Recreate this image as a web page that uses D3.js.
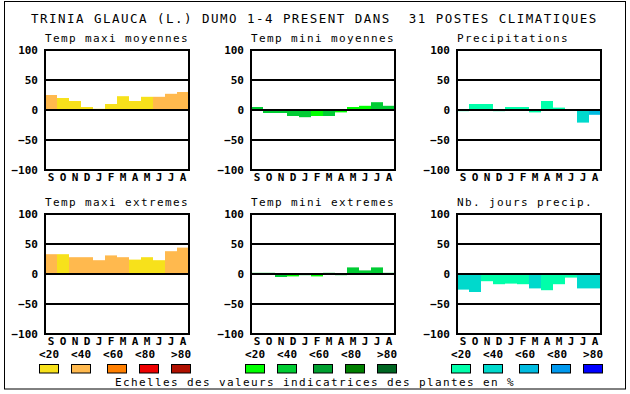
<!DOCTYPE html>
<html><head><meta charset="utf-8">
<script src="https://cdn.jsdelivr.net/npm/d3@7/dist/d3.min.js"></script>
<style>
html,body{margin:0;padding:0;background:#fff;}
svg text{font-family:"DejaVu Sans Mono",monospace;white-space:pre;}
</style></head>
<body><svg id="c" width="630" height="394"></svg>
<script>
const mainTitle = "TRINIA GLAUCA (L.) DUMO 1-4 PRESENT DANS  31 POSTES CLIMATIQUES";
const footer = "Echelles des valeurs indicatrices des plantes en %";
const months = ["S","O","N","D","J","F","M","A","M","J","J","A"];
const yTicks = [100, 50, 0, -50, -100];
const legendLabels = ["<20","<40","<60","<80",">80"];

const yellowScale = ["#f7e11b","#ffb94e","#ff7f00","#ee0000","#b01000"];
const greenScale  = ["#00ff00","#00cc33","#00a030","#008000","#006622"];
const blueScale   = ["#00ffaa","#00d9cc","#00bbe0","#0099ee","#0000ff"];

const panelTitles = ["Temp maxi moyennes","Temp mini moyennes","Precipitations",
                     "Temp maxi extremes","Temp mini extremes","Nb. jours precip."];

const tmaxMoy      = [25,20,15,5,2,10,23,15,22,22,27,30];
const tmaxMoyClass = [1,0,0,0,0,0,0,0,0,1,1,1];
const tminMoy      = [5,-5,-5,-10,-12,-10,-10,-4,5,7,13,7];
const tminMoyClass = [1,1,1,1,1,0,1,0,0,0,1,1];
const precip       = [-2,10,10,-2,5,5,-4,15,4,0,-21,-8];
const precipClass  = [0,0,0,0,0,0,0,0,0,0,1,2];
const tmaxExt      = [33,33,28,28,23,31,28,24,28,23,38,44];
const tmaxExtClass = [1,0,1,1,1,1,1,0,0,0,1,1];
const tminExt      = [2,2,-5,-4,-2,-4,2,-2,11,6,11,2];
const tminExtClass = [1,1,1,0,1,0,1,1,1,1,1,1];
const joursPrecip      = [-26,-30,-12,-17,-16,-17,-24,-27,-17,-6,-24,-24];
const joursPrecipClass = [1,1,0,0,0,0,1,0,0,0,1,1];

const panels = [
  {values:tmaxMoy, cls:tmaxMoyClass, pal:yellowScale},
  {values:tminMoy, cls:tminMoyClass, pal:greenScale},
  {values:precip, cls:precipClass, pal:blueScale},
  {values:tmaxExt, cls:tmaxExtClass, pal:yellowScale},
  {values:tminExt, cls:tminExtClass, pal:greenScale},
  {values:joursPrecip, cls:joursPrecipClass, pal:blueScale}
];

const svg = d3.select("#c");
svg.append("rect").attr("x",4.5).attr("y",1.5).attr("width",621).attr("height",387.5)
  .attr("fill","#fff").attr("stroke","#000").attr("stroke-width",1);

svg.append("text").attr("x",31).attr("y",23).attr("font-size",12.5)
  .attr("letter-spacing",1.47).attr("fill","#000").text(mainTitle);

const colX = [45, 251, 457];
const rowY = [50, 214];
const W = 144, H = 120;

panels.forEach((p, i) => {
  const x0 = colX[i % 3], y0 = rowY[Math.floor(i / 3)];
  const x = d3.scaleBand().domain(d3.range(12)).range([x0, x0 + W]).padding(0);
  const y = d3.scaleLinear().domain([-100, 100]).range([y0 + H, y0]);
  const g = svg.append("g");

  g.append("text").attr("x", x0).attr("y", y0 - 8).attr("font-size", 11)
    .attr("letter-spacing", 1.38).text(panelTitles[i]);

  g.selectAll("rect.bar").data(p.values).enter().append("rect")
    .attr("x", (d, j) => x(j))
    .attr("width", x.bandwidth())
    .attr("y", d => y(Math.max(0, d)))
    .attr("height", d => Math.abs(y(d) - y(0)))
    .attr("fill", (d, j) => p.pal[p.cls[j]]);

  g.selectAll("line.grid").data([50, 0, -50]).enter().append("line")
    .attr("x1", x0).attr("x2", x0 + W)
    .attr("y1", d => y(d)).attr("y2", d => y(d))
    .attr("stroke", "#000").attr("stroke-width", 2);

  g.append("rect").attr("x", x0).attr("y", y0).attr("width", W).attr("height", H)
    .attr("fill", "none").attr("stroke", "#000").attr("stroke-width", 2);

  const ya = g.append("g").attr("transform", `translate(${x0},0)`)
    .call(d3.axisLeft(y).tickValues(yTicks).tickSize(0).tickPadding(7).tickFormat(d3.format("d")));
  ya.select(".domain").remove();
  ya.selectAll("text").attr("font-family", "DejaVu Sans Mono").attr("font-weight", "bold")
    .attr("font-size", 11).attr("fill", "#000").attr("dy", "0.36em");

  const xa = g.append("g").attr("transform", `translate(0,${y0 + H})`)
    .call(d3.axisBottom(x).tickSize(0).tickPadding(3).tickFormat(j => months[j]));
  xa.select(".domain").remove();
  xa.selectAll("text").attr("font-family", "DejaVu Sans Mono").attr("font-weight", "bold")
    .attr("font-size", 11).attr("fill", "#000");
});

const legendOffsets = [0, 206, 412];
const labelX = [39, 71, 103, 135, 171];
const boxX = [39, 71, 107, 139, 171];
[yellowScale, greenScale, blueScale].forEach((pal, k) => {
  const off = legendOffsets[k];
  legendLabels.forEach((lab, j) => {
    svg.append("text").attr("x", labelX[j] + off).attr("y", 357.5)
      .attr("font-size", 11).attr("font-weight", "bold").attr("letter-spacing", 0.1).text(lab);
    svg.append("rect").attr("x", boxX[j] + off + 0.5).attr("y", 364.5)
      .attr("width", 19).attr("height", 8.5).attr("fill", pal[j])
      .attr("stroke", "#000").attr("stroke-width", 1);
  });
});

svg.append("text").attr("x", 115).attr("y", 386).attr("font-size", 11)
  .attr("letter-spacing", 1.38).text(footer);
</script></body></html>
